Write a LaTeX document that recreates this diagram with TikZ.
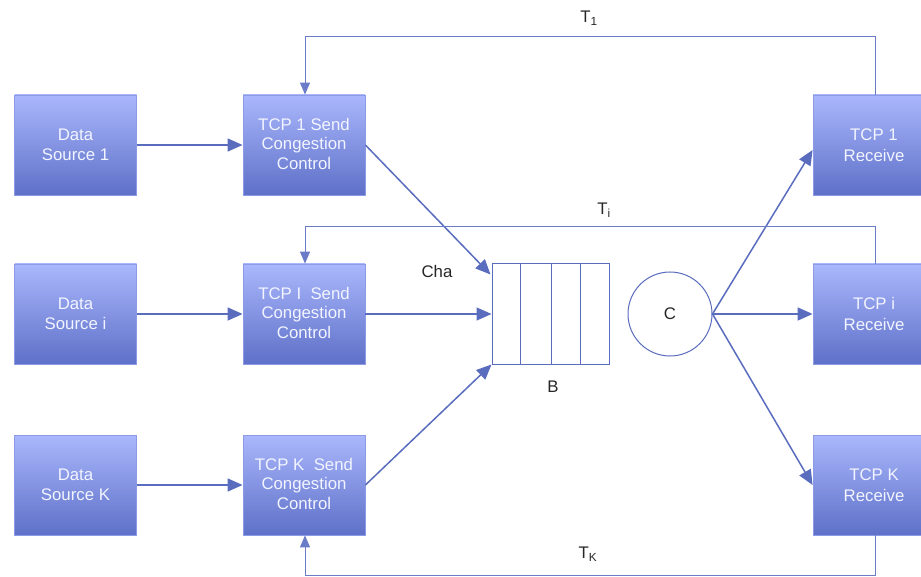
\documentclass[tikz,border=0pt]{standalone}
\usepackage{fontspec}
\setmainfont{Liberation Sans}
\usetikzlibrary{arrows.meta,calc}
\definecolor{boxtop}{HTML}{AAB7FC}
\definecolor{boxbot}{HTML}{5E70C8}
\definecolor{boxedge}{HTML}{8D9BE6}
\definecolor{linec}{HTML}{5A6CBE}
\definecolor{fbc}{HTML}{6A7BC8}
\definecolor{txtw}{HTML}{F2F4FF}
\tikzset{
  blk/.style={rectangle, minimum width=122pt, minimum height=100pt, inner sep=0pt,
    top color=boxtop, bottom color=boxbot, draw=boxedge, line width=0.8pt,
    text=txtw, align=center, font=\fontsize{16.8}{20.5}\selectfont},
  sblk/.style={blk, font=\fontsize{16.8}{19.5}\selectfont, text depth=3pt},
  conn/.style={draw=linec, line width=1.5pt, -{Triangle[length=15pt,width=13pt]}},
  fb/.style={draw=fbc, line width=1pt},
  fbarr/.style={draw=fbc, line width=1pt, -{Triangle[length=12pt,width=10pt]}},
  lbl/.style={font=\fontsize{16.8}{20}\selectfont, text=black!85},
  cell/.style={draw=linec, line width=1pt},
}
\begin{document}
\begin{tikzpicture}[x=1pt,y=-1pt]
\useasboundingbox (0,0) rectangle (921,577);
% data sources
\node[blk] (d1) at (75.5,145) {Data\\Source 1};
\node[blk] (d2) at (75.5,314) {Data\\Source i};
\node[blk] (d3) at (75.5,485) {Data\\Source K};
% senders
\node[sblk] (s1) at (304,145) {TCP 1 Send\\Congestion\\Control};
\node[sblk] (s2) at (304,314) {TCP I\ \ Send\\Congestion\\Control};
\node[sblk] (s3) at (304,485) {TCP K\ \ Send\\Congestion\\Control};
% receivers
\node[blk] (r1) at (874,145) {TCP 1\\Receive};
\node[blk] (r2) at (874,314) {TCP i\\Receive};
\node[blk] (r3) at (874,485) {TCP K\\Receive};
% queue
\node[draw=linec, line width=1pt, minimum width=117pt, minimum height=100pt, inner sep=0pt] (q) at (550.5,314) {};
\coordinate (qa) at (520,264);
\coordinate (qb) at (551,264);
\coordinate (qc) at (580,264);
\draw[cell] (qa) -- (qa |- q.south);
\draw[cell] (qb) -- (qb |- q.south);
\draw[cell] (qc) -- (qc |- q.south);
% server
\node[circle, draw=linec, line width=1pt, minimum size=84pt, inner sep=0pt] (c) at (670,314) {};
\node[lbl] at (c) {C};
\node[lbl] (cha) at (437,271) {Cha};
\node[lbl] (bl) at (553,387) {B};
% data arrows
\draw[conn] (d1) -- (s1);
\draw[conn] (d2) -- (s2);
\draw[conn] (d3) -- (s3);
\draw[conn] (s1.east) -- ($(q.north west)+(-1,11)$);
\draw[conn] (s2) -- (q);
\draw[conn] (s3.east) -- (q.south west);
\draw[conn] (c.east) -- ($(r1.west)+(0,5)$);
\draw[conn] (c.east) -- (r2.west);
\draw[conn] (c.east) -- (r3.west);
% feedback
\coordinate (t1r) at (875,37);
\coordinate (t1l) at (305,37);
\draw[fbarr] (r1.north -| t1r) -- (t1r) -- (t1l) -- (s1.north -| t1l);
\node[lbl] (t1) at (589,18) {T\textsubscript{1}};
\coordinate (tir) at (875,227);
\coordinate (til) at (305,227);
\draw[fbarr] (r2.north -| tir) -- (tir) -- (til) -- (s2.north -| til);
\node[lbl] (ti) at (604,210) {T\textsubscript{i}};
\coordinate (tkr) at (875,575);
\coordinate (tkl) at (305,575);
\draw[fbarr] (r3.south -| tkr) -- (tkr) -- (tkl) -- (s3.south -| tkl);
\node[lbl] (tk) at (588,554) {T\textsubscript{K}};
\end{tikzpicture}
\end{document}
